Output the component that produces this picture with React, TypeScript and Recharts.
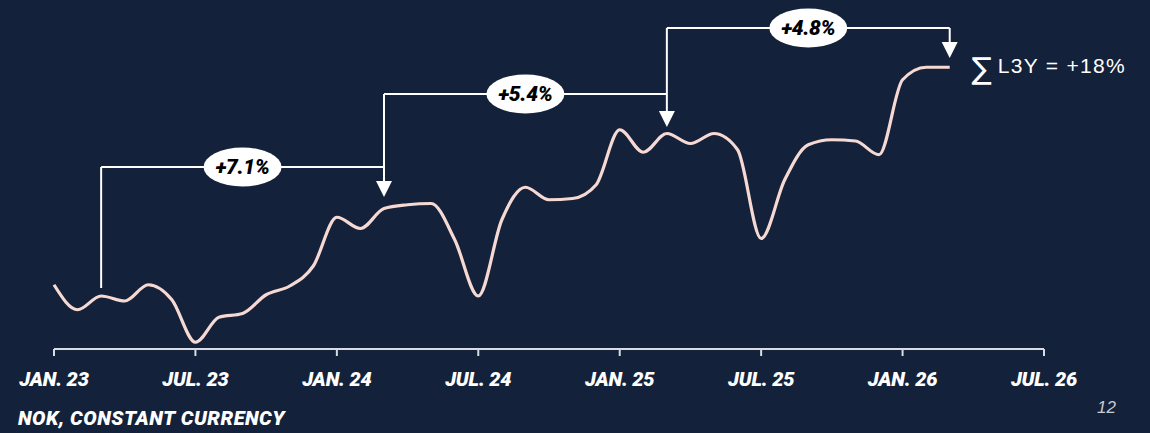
import React from "react";
import { LineChart, Line, XAxis, YAxis, ReferenceLine, ReferenceDot } from "recharts";

// monthly index, Jan 23 = month 0
const values = [
  100.9, 98.9, 100.0, 99.6, 100.9, 99.7, 96.3, 98.3, 98.6, 100.1, 100.8, 102.4,
  106.3, 105.4, 107.0, 107.3, 107.4, 104.5, 100.0, 106.1, 108.7, 107.7, 107.8, 108.9,
  113.3, 111.5, 113.0, 112.2, 113.0, 111.7, 104.6, 109.3, 112.1, 112.5, 112.4, 111.3,
  117.3, 118.3, 118.3,
];
const tickMonths = [0, 6, 12, 18, 24, 30, 36, 42];
const tickLabels = ["JAN. 23", "JUL. 23", "JAN. 24", "JUL. 24", "JAN. 25", "JUL. 25", "JAN. 26", "JUL. 26"];

// bracket annotations: from month -> to month, label
const brackets = [
  { from: 2, to: 14, level: 110.32, start: 100.64, tip: 107.92, label: "+7.1%" },
  { from: 14, to: 26, level: 116.16, start: 110.32, tip: 113.52, label: "+5.4%" },
  { from: 26, to: 38, level: 121.44, start: 116.16, tip: 119.04, label: "+4.8%" },
];
const totalLabel = "L3Y = +18%";
const unitLabel = "NOK, CONSTANT CURRENCY";
const pageNo = "12";

const data = values.map((v, i) => ({ m: i, v }));

const BG = "#13213a";
const LINE = "#f6d9d3";
const AXIS = "#d9dce2";
const boldFont = "Roboto, 'Liberation Sans', sans-serif";

const AxisTick = (props: any) => {
  const { x, y, payload } = props;
  const idx = tickMonths.indexOf(payload.value);
  return (
    <text
      x={x}
      y={y + 28}
      textAnchor="middle"
      fill="#ffffff"
      fontFamily={boldFont}
      fontWeight={900}
      fontStyle="italic"
      fontSize={20}
      letterSpacing={-0.2}
    >
      {tickLabels[idx]}
    </text>
  );
};

const Arrow = (props: any) => {
  const { cx, cy } = props;
  return <path d={`M${cx - 8},${cy - 16} L${cx + 8},${cy - 16} L${cx},${cy} Z`} fill="#ffffff" />;
};

const Pill = (label: string) => (props: any) => {
  const { cx, cy } = props;
  return (
    <g>
      <ellipse cx={cx} cy={cy} rx={39} ry={19.5} fill="#ffffff" />
      <text
        x={cx}
        y={cy + 7}
        textAnchor="middle"
        fill="#000000"
        fontFamily={boldFont}
        fontWeight={900}
        fontStyle="italic"
        fontSize={21}
        letterSpacing={-0.3}
      >
        {label}
      </text>
    </g>
  );
};

const TotalText = (props: any) => {
  const { cx, cy } = props;
  return (
    <g>
      <text x={cx + 22} y={cy + 12} fill="#ffffff" fontFamily="'DejaVu Sans', sans-serif" fontSize={30}>
        ∑
      </text>
      <text
        x={cx + 48}
        y={cy + 6}
        fill="#ffffff"
        fontFamily="'Liberation Sans', Arial, sans-serif"
        fontSize={21}
        letterSpacing={1.3}
      >
        {totalLabel}
      </text>
    </g>
  );
};

export default function App() {
  return (
    <div style={{ position: "absolute", left: 0, top: 0, width: 1150, height: 433, background: BG, overflow: "hidden" }}>
      <LineChart width={1150} height={433} data={data} margin={{ top: 20, right: 106, bottom: 44, left: 54 }}>
        <XAxis
          dataKey="m"
          type="number"
          domain={[0, 42]}
          ticks={tickMonths}
          interval={0}
          height={40}
          axisLine={{ stroke: AXIS, strokeWidth: 2 }}
          tickLine={{ stroke: AXIS, strokeWidth: 2 }}
          tickSize={7}
          tick={<AxisTick />}
        />
        <YAxis hide domain={[95.76, 122.08]} />
        {brackets.map((b) => (
          <React.Fragment key={b.label}>
            <ReferenceLine segment={[{ x: b.from, y: b.start }, { x: b.from, y: b.level }]} stroke="#fff" strokeWidth={2} ifOverflow="visible" />
            <ReferenceLine segment={[{ x: b.from, y: b.level }, { x: b.to, y: b.level }]} stroke="#fff" strokeWidth={2} ifOverflow="visible" />
            <ReferenceLine segment={[{ x: b.to, y: b.level }, { x: b.to, y: b.tip + 1 }]} stroke="#fff" strokeWidth={2} ifOverflow="visible" />
            <ReferenceDot x={b.to} y={b.tip} ifOverflow="visible" shape={<Arrow />} />
            <ReferenceDot x={(b.from + b.to) / 2} y={b.level} ifOverflow="visible" shape={Pill(b.label)} />
          </React.Fragment>
        ))}
        <Line type="monotone" dataKey="v" stroke={LINE} strokeWidth={3.2} dot={false} isAnimationActive={false} />
        <ReferenceDot x={38} y={values[values.length - 1]} ifOverflow="visible" shape={<TotalText />} />
      </LineChart>
      <div
        style={{
          position: "absolute",
          left: 18,
          top: 407,
          color: "#fff",
          fontFamily: boldFont,
          fontWeight: 900,
          fontStyle: "italic",
          fontSize: 20,
          lineHeight: "22px",
          letterSpacing: 0.5,
          whiteSpace: "nowrap",
        }}
      >
        {unitLabel}
      </div>
      <div
        style={{
          position: "absolute",
          left: 1097,
          top: 398,
          color: "#c9ccd2",
          fontFamily: "'Liberation Sans', Arial, sans-serif",
          fontStyle: "italic",
          fontSize: 17,
          lineHeight: "20px",
        }}
      >
        {pageNo}
      </div>
    </div>
  );
}
